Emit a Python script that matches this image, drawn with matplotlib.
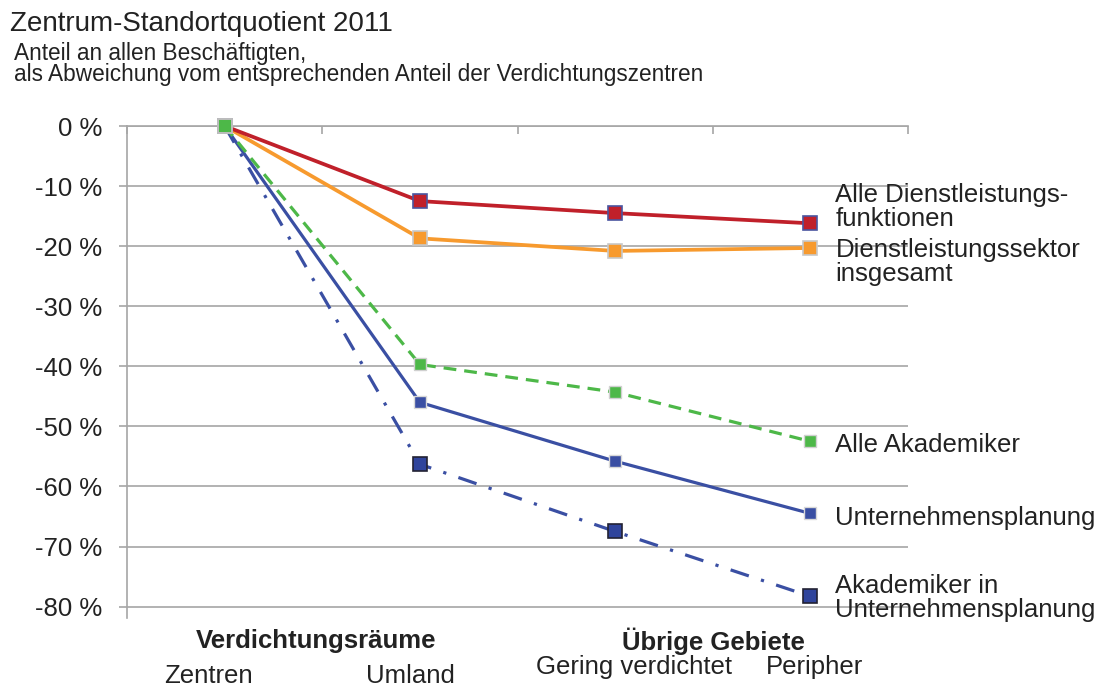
import matplotlib
matplotlib.use("Agg")
import matplotlib.pyplot as plt

plt.rcParams['font.family'] = ['Liberation Sans', 'DejaVu Sans']

categories = ["Zentren", "Umland", "Gering verdichtet", "Peripher"]
groups = ["Verdichtungsräume", "Übrige Gebiete"]
series_names = ["Alle Dienstleistungs-\nfunktionen", "Dienstleistungssektor\ninsgesamt",
                "Alle Akademiker", "Unternehmensplanung", "Akademiker in\nUnternehmensplanung"]
dienst_funktionen = [0, -12.5, -14.5, -16.2]
dienst_sektor = [0, -18.7, -20.8, -20.3]
alle_akademiker = [0, -39.7, -44.3, -52.5]
unternehmensplanung = [0, -46.0, -55.8, -64.5]
akad_unternehmensplanung = [0, -56.3, -67.5, -78.3]
yticks = [0, -10, -20, -30, -40, -50, -60, -70, -80]

W, H = 1102, 688
fig = plt.figure(figsize=(W / 100, H / 100), dpi=100)
ax = fig.add_axes([127 / W, (H - 618) / H, (908 - 127) / W, (618 - 126) / H])

x = list(range(len(categories)))
styles = [
    (dienst_funktionen, dict(color="#C0202A", lw=2.7, ls="-", marker="s", ms=10,
                             mfc="#C0202A", mec="#4A55A0", mew=1.2)),
    (dienst_sektor, dict(color="#F79A2E", lw=2.7, ls="-", marker="s", ms=10,
                         mfc="#F79A2E", mec="#C8C8C8", mew=1.2)),
    (alle_akademiker, dict(color="#4DB848", lw=2.3, ls=(0, (4, 2.5)), marker="s", ms=8,
                           mfc="#4DB848", mec="#D0D0D0", mew=1.0)),
    (unternehmensplanung, dict(color="#3A4FA3", lw=2.3, ls="-", marker="s", ms=8,
                               mfc="#3A4FA3", mec="#D8D8D8", mew=1.0)),
    (akad_unternehmensplanung, dict(color="#3A4FA3", lw=2.3, ls=(0, (6, 4, 1, 4)), marker="s", ms=9.5,
                                    mfc="#2F449C", mec="#222233", mew=1.2)),
]
for vals, st in reversed(styles):
    ax.plot(x, vals, zorder=3, clip_on=False, **st)
# green start marker sits on top in the reference
g = styles[2][1]
ax.plot(x[:1], alle_akademiker[:1], ls="none", marker="s", ms=10.5, mfc=g["mfc"],
        mec="#BEBEBE", mew=1.4, zorder=4, clip_on=False)

# right labels
label_offsets_px = [16, -14, -4, -5, -2]
for name, (vals, st), dy in zip(series_names, styles, label_offsets_px):
    ax.annotate(name, xy=(x[-1], vals[-1]), xytext=(25, dy), textcoords="offset pixels",
                ha="left", va="center", fontsize=18.5, color="#222222", linespacing=1.0,
                annotation_clip=False)

ax.set_xlim(-0.5, 3.5)
ax.set_ylim(-81.9, 0)
ax.set_yticks(yticks)
ax.set_yticklabels([f"{v} %" for v in yticks], fontsize=18.5, color="#222222")
ax.yaxis.grid(True, color="#A6A6A6", lw=1.2)
ax.set_axisbelow(True)

for s in ["right", "bottom"]:
    ax.spines[s].set_visible(False)
for s in ["left", "top"]:
    ax.spines[s].set_color("#A6A6A6")
    ax.spines[s].set_linewidth(1.2)

ax.tick_params(axis="y", length=6, width=1.2, color="#A6A6A6", pad=12)
ax.xaxis.tick_top()
ax.set_xticks([-0.5, 0.5, 1.5, 2.5, 3.5])
ax.tick_params(axis="x", direction="in", length=6, width=1.2, color="#A6A6A6",
               labeltop=False, labelbottom=False)

def ftext(px, py, s, **kw):
    fig.text(px / W, 1 - py / H, s, ha="center", va="center", color="#222222", **kw)

ftext(208, 676, categories[0], fontsize=18.5)
ftext(410, 676, categories[1], fontsize=18.5)
ftext(634, 667, categories[2], fontsize=18.5)
ftext(815, 667, categories[3], fontsize=18.5)
ftext(316, 641, groups[0], fontsize=18.5, fontweight="bold")
ftext(713, 641, groups[1], fontsize=18.5, fontweight="bold")

fig.text(10 / W, 1 - 24 / H, "Zentrum-Standortquotient 2011", fontsize=20,
         ha="left", va="center", color="#222222")
fig.text(14 / W, 1 - 64 / H,
         "Anteil an allen Beschäftigten,\nals Abweichung vom entsprechenden Anteil der Verdichtungszentren",
         fontsize=16.3, ha="left", va="center", color="#222222", linespacing=0.88)

fig.savefig("out.png", dpi=100)
